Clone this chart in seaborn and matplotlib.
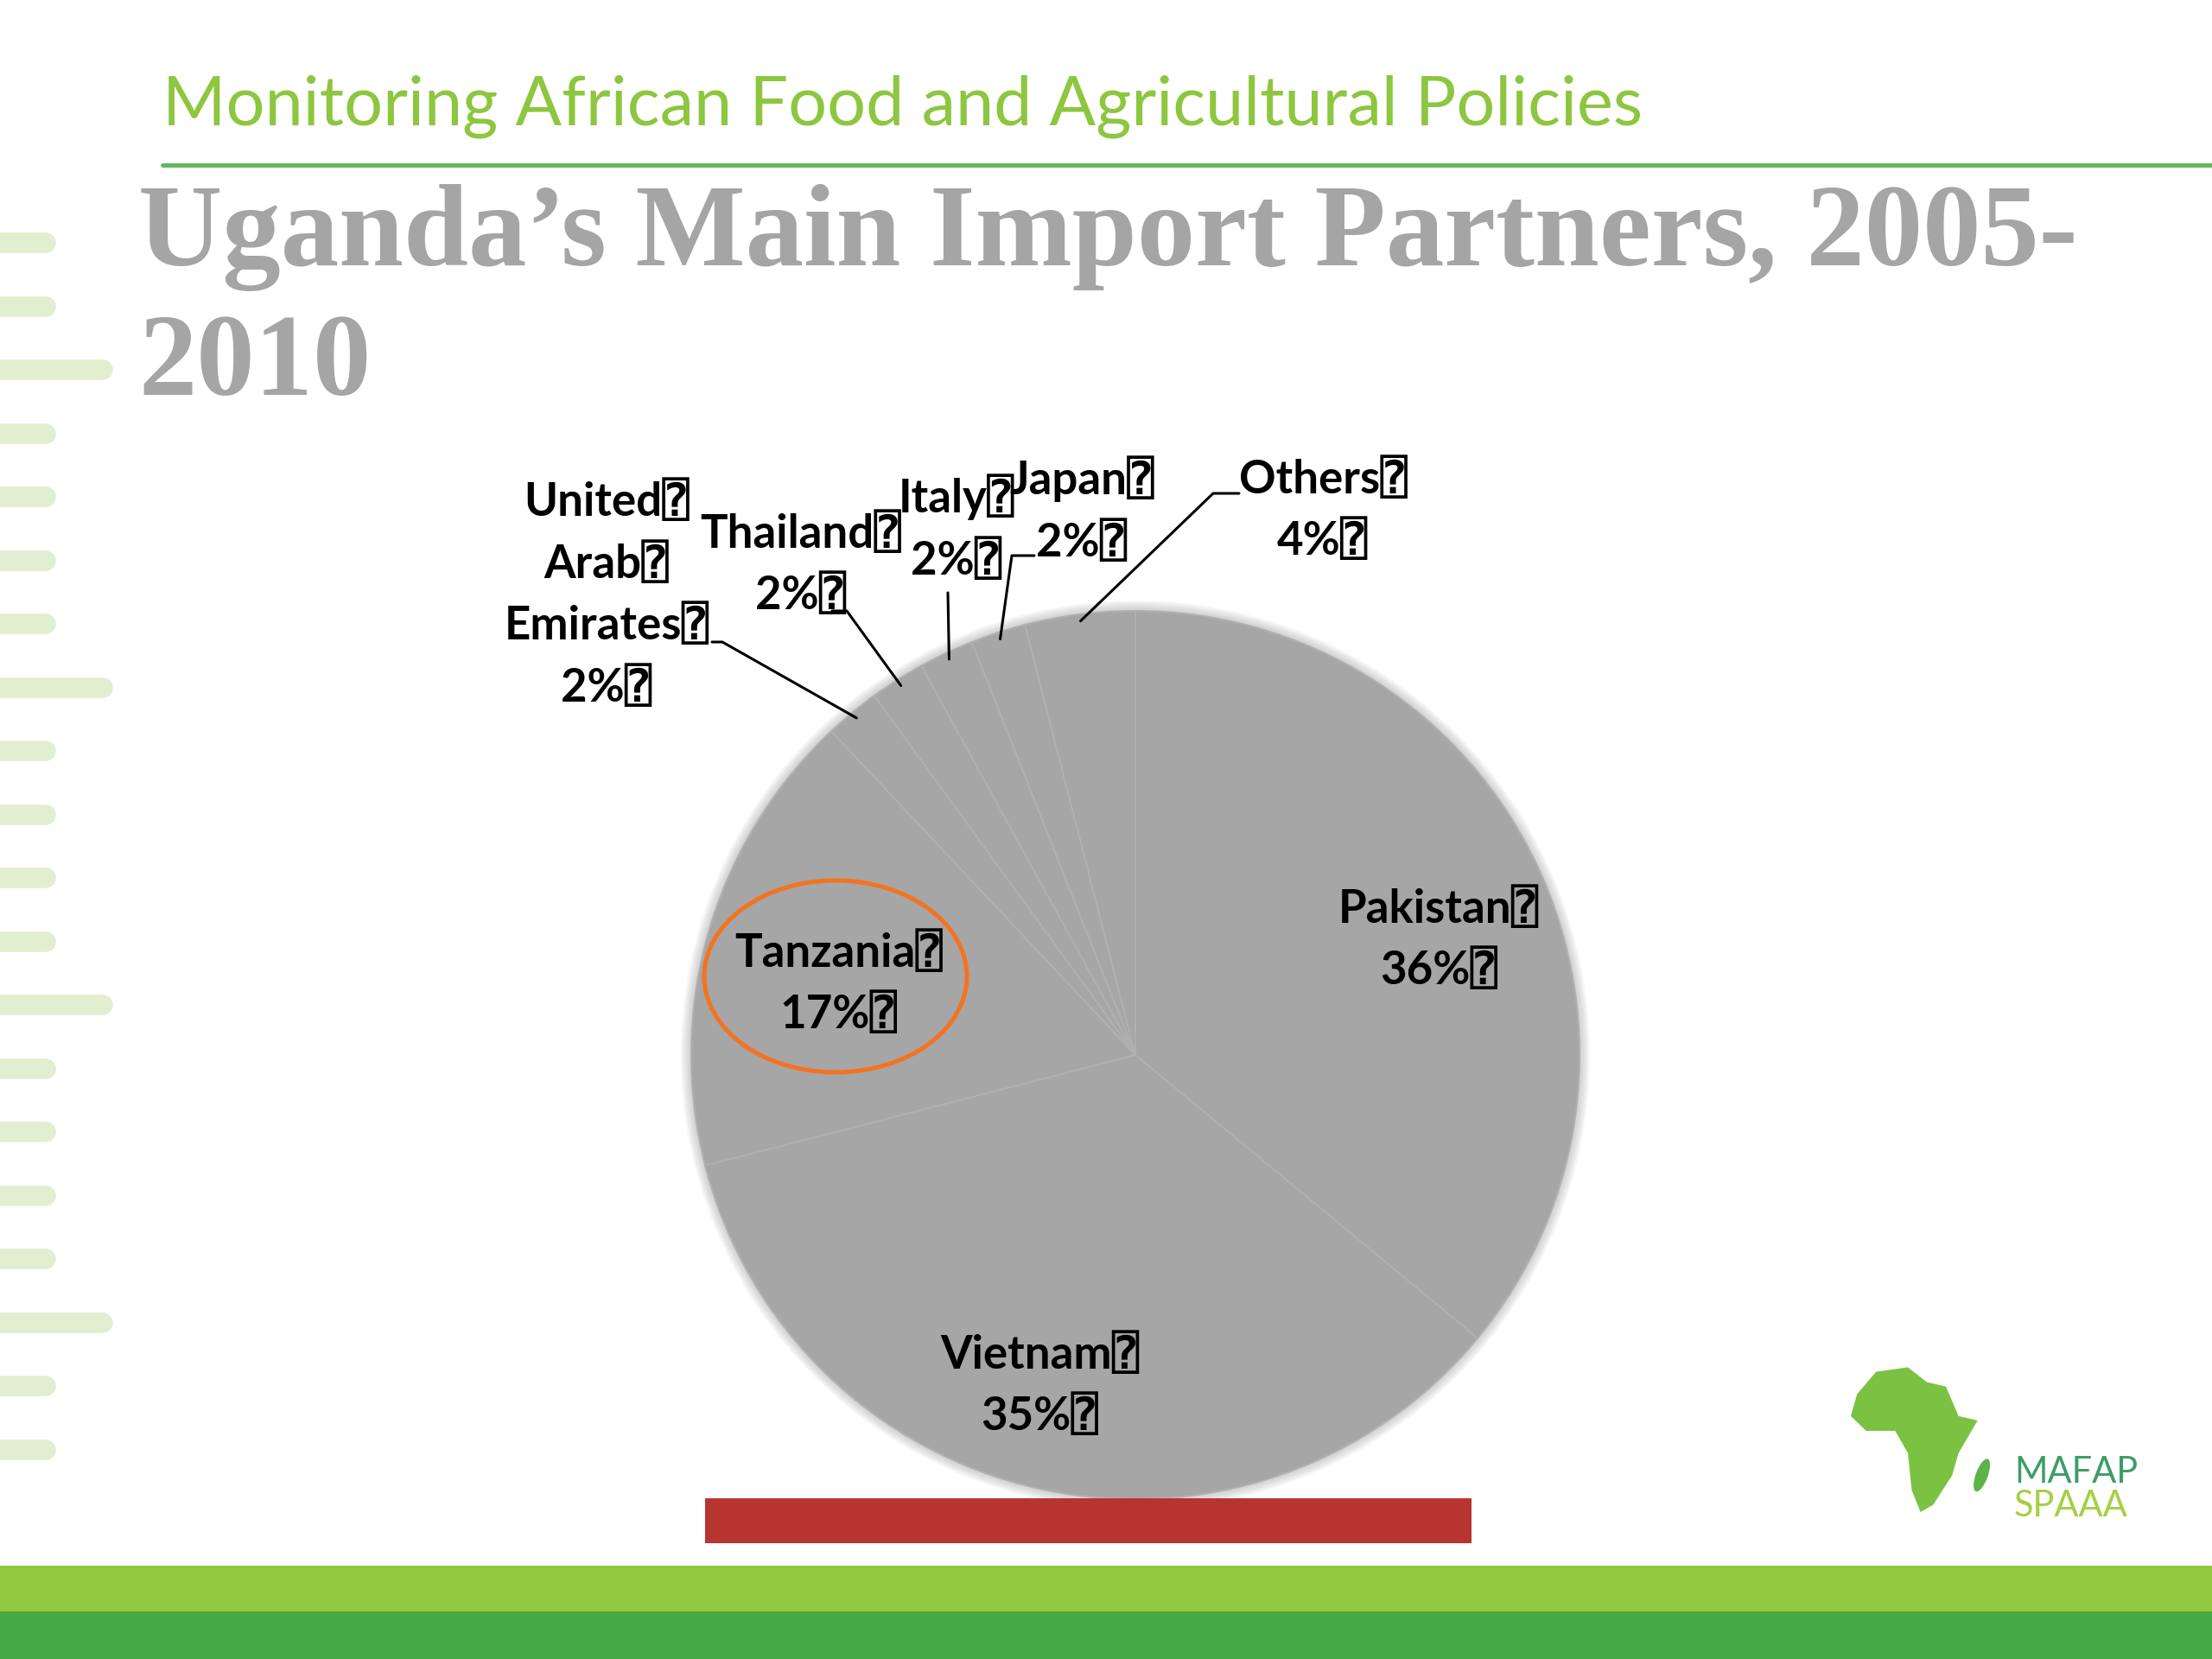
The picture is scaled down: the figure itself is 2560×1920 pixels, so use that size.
import numpy as np
import matplotlib
matplotlib.use("Agg")
import matplotlib.pyplot as plt
from matplotlib.patches import Ellipse, Rectangle, Polygon, Circle
import seaborn as sns

# --- DATA ---
partners = ['Pakistan', 'Vietnam', 'Tanzania', 'United\nArab\nEmirates',
            'Thailand', 'Italy', 'Japan', 'Others']
shares = [36, 35, 17, 2, 2, 2, 2, 4]

header = 'Monitoring African Food and Agricultural Policies'
title_lines = ['Uganda\u2019s Main Import Partners, 2005-', '2010']
box = '\u2370'   # the missing-glyph box shown after every label

sns.set_theme(style='white')
plt.rcParams['font.family'] = ['Lato', 'DejaVu Sans', 'DejaVu Sans Mono']

fig = plt.figure(figsize=(25.6, 19.2), dpi=100)
ax = fig.add_axes([0, 0, 1, 1])

# --- PIE ---
cx, cy, r = 1314, 699, 514
for k in range(1, 9):
    ax.add_patch(Circle((cx, cy), r + k * 1.5, color='#a6a6a6', alpha=0.08, lw=0))
wedges, _ = ax.pie(shares, startangle=90, counterclock=False, center=(cx, cy),
                   radius=r, colors=['#a6a6a6'] * len(shares),
                   wedgeprops=dict(edgecolor='#b0b0b0', linewidth=1.5))

ax.set_xlim(0, 2560)
ax.set_ylim(0, 1920)
ax.set_aspect('equal')
ax.axis('off')

lab_font = dict(family=['Lato', 'DejaVu Sans', 'DejaVu Sans Mono'],
                fontsize=38, fontweight='bold', color='black',
                ha='center', va='center', linespacing=1.5)

def lab(name, v):
    return '\n'.join(line + box for line in name.split('\n')) + '\n' + f'{v}%' + box

# labels inside the pie
inside_pos = {'Pakistan': (1665, 833), 'Vietnam': (1203, 317), 'Tanzania': (971, 782)}
# labels outside, with leader line elbows
outside_pos = {'United\nArab\nEmirates': (702, 1232), 'Thailand': (927, 1267),
               'Italy': (1107, 1309), 'Japan': (1252, 1330), 'Others': (1531, 1330)}
elbows = {'United\nArab\nEmirates': [(824, 1177), (836, 1177)],
          'Thailand': [(963, 1213), (980, 1213)],
          'Italy': [(1097, 1234)],
          'Japan': [(1197, 1277), (1171, 1277)],
          'Others': [(1434, 1349), (1404, 1349)]}

for w, name, v in zip(wedges, partners, shares):
    if name in inside_pos:
        x, y = inside_pos[name]
        ax.text(x, y, lab(name, v), **lab_font)
    else:
        x, y = outside_pos[name]
        ax.text(x, y, lab(name, v), **lab_font)
        mid = np.deg2rad((w.theta1 + w.theta2) / 2)
        ex, ey = cx + 0.985 * r * np.cos(mid), cy + 0.985 * r * np.sin(mid)
        pts = elbows[name] + [(ex, ey)]
        ax.plot([p[0] for p in pts], [p[1] for p in pts], color='black', lw=2.2)

ax.add_patch(Ellipse((967, 790), 304, 222, fill=False, edgecolor='#f47320', lw=3.6))

# --- SLIDE DECORATION ---
ax.text(188, 1776, header, fontsize=57, color='#8dc63f', va='baseline',
        family=['Lato', 'DejaVu Sans'])
ax.plot([188, 2560], [1729, 1729], color='#62b85e', lw=3.6)
for i, line in enumerate(title_lines):
    ax.text(160, 1613 - i * 150, line, fontsize=97, fontweight='bold',
            color='#a5a5a5', family=['Liberation Serif', 'DejaVu Serif'],
            va='baseline')

for k in range(20):
    yb = 1920 - (281 + 73.5 * k)
    xe = 119 if k % 5 == 2 else 53
    ax.plot([-20, xe], [yb, yb], color='#e2eed0', lw=17, solid_capstyle='round')

ax.add_patch(Rectangle((0, 55), 2560, 53, color='#92c83e', lw=0))
ax.add_patch(Rectangle((0, 0), 2560, 55, color='#45aa43', lw=0))
ax.add_patch(Rectangle((816, 134), 887, 52, color='#b83430', lw=0))

# logo
africa = np.array([(0.05, 0.2), (0.2, 0.05), (0.45, 0.02), (0.6, 0.12), (0.75, 0.15),
                   (0.85, 0.35), (1.0, 0.38), (0.85, 0.6), (0.8, 0.75), (0.65, 0.95),
                   (0.55, 1.0), (0.48, 0.85), (0.45, 0.6), (0.35, 0.45), (0.12, 0.45),
                   (0.0, 0.35)])
lx, ly, lw_, lh = 2142, 341, 163, 171
ax.add_patch(Polygon(np.c_[lx + africa[:, 0] * lw_ * 0.9, ly - africa[:, 1] * lh],
                     color='#7cc242', lw=0))
ax.add_patch(Ellipse((lx + 0.93 * lw_, ly - 0.75 * lh), 14, 40, angle=-20,
                     color='#5db34a', lw=0))
ax.text(2331, 204, 'MAFAP', fontsize=30, color='#3f9c6a', va='baseline',
        family=['Lato', 'DejaVu Sans'])
ax.text(2331, 165, 'SPAAA', fontsize=30, color='#a6cf45', va='baseline',
        family=['Lato', 'DejaVu Sans'])

fig.savefig('out.png', dpi=100, facecolor='white')
